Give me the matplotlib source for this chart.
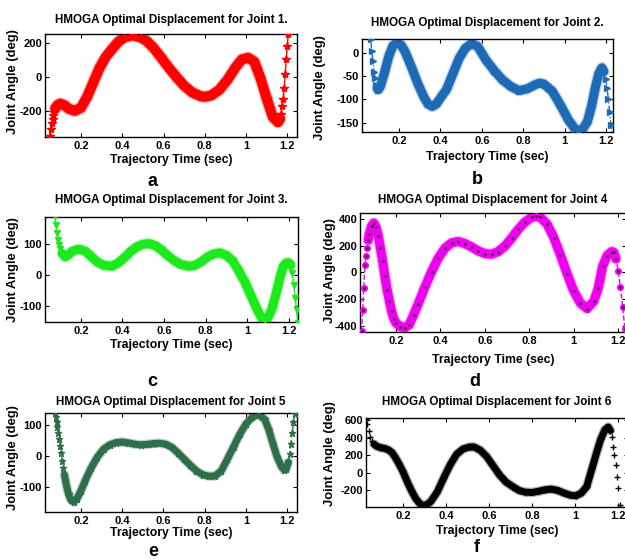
import numpy as np
import matplotlib
matplotlib.use("Agg")
import matplotlib.pyplot as plt

W, H = 625, 559

# trajectory time (sec) and joint angle (deg)
a_t = [0.05, 0.054, 0.058, 0.062, 0.066, 0.07, 0.075, 0.085, 0.10, 0.12, 0.14, 0.17, 0.20, 0.23,
       0.26, 0.29, 0.32, 0.35, 0.38, 0.41, 0.45, 0.49, 0.52, 0.55, 0.58, 0.62, 0.66, 0.70, 0.74,
       0.78, 0.80, 0.83, 0.87, 0.91, 0.95, 0.98, 1.01, 1.04, 1.07, 1.10, 1.13, 1.155, 1.165, 1.17,
       1.175, 1.18, 1.185, 1.19, 1.195, 1.2, 1.205, 1.21]
a_deg = [-345, -305, -272, -245, -222, -202, -185, -165, -155, -165, -185, -198, -180, -115,
         -30, 55, 120, 165, 208, 235, 247, 235, 212, 175, 130, 65, 5, -50, -90,
         -112, -115, -108, -75, -15, 60, 105, 115, 92, -5, -125, -235, -265, -245, -215,
         -172, -130, -65, 20, 105, 185, 255, 330]

b_t = [0.063, 0.068, 0.074, 0.079, 0.084, 0.089, 0.095, 0.10, 0.11, 0.13, 0.15, 0.17, 0.19, 0.21,
       0.23, 0.26, 0.29, 0.32, 0.34, 0.36, 0.38, 0.40, 0.43, 0.46, 0.49, 0.52, 0.55, 0.58, 0.62,
       0.66, 0.70, 0.74, 0.78, 0.82, 0.86, 0.88, 0.90, 0.94, 0.98, 1.02, 1.05, 1.07, 1.09, 1.11,
       1.13, 1.15, 1.165, 1.18, 1.19, 1.198, 1.205, 1.212, 1.218, 1.224, 1.23]
b_deg = [30, 4, -18, -40, -54, -68, -76, -79, -72, -42, -8, 15, 22, 17,
         2, -30, -65, -95, -110, -115, -110, -97, -78, -45, -12, 10, 20, 14, -15,
         -38, -58, -72, -81, -77, -68, -65, -67, -82, -112, -145, -163, -168, -162, -148,
         -115, -72, -45, -32, -40, -55, -75, -100, -128, -155, -185]

c_t = [0.075, 0.08, 0.085, 0.09, 0.095, 0.10, 0.11, 0.125, 0.14, 0.16, 0.19, 0.22, 0.25, 0.28,
       0.31, 0.35, 0.38, 0.41, 0.44, 0.47, 0.50, 0.53, 0.56, 0.59, 0.62, 0.65, 0.68, 0.72, 0.75,
       0.78, 0.81, 0.84, 0.87, 0.90, 0.93, 0.96, 0.99, 1.02, 1.05, 1.07, 1.085, 1.10, 1.12, 1.14,
       1.16, 1.175, 1.19, 1.20, 1.21, 1.218, 1.225, 1.232, 1.238, 1.244]
c_deg = [190, 160, 135, 113, 96, 84, 68, 57, 64, 76, 82, 76, 58, 40,
         30, 27, 38, 55, 75, 90, 98, 100, 93, 78, 60, 45, 33, 27, 30,
         42, 57, 67, 70, 62, 45, 12, -25, -70, -115, -140, -148, -140, -110, -60,
         -5, 28, 38, 38, 30, 5, -35, -75, -115, -155]

d_t = [0.045, 0.05, 0.055, 0.06, 0.065, 0.07, 0.075, 0.08, 0.09, 0.10, 0.11, 0.12, 0.13, 0.14,
       0.15, 0.16, 0.17, 0.18, 0.19, 0.20, 0.22, 0.24, 0.26, 0.28, 0.30, 0.33, 0.36, 0.39, 0.42,
       0.45, 0.48, 0.51, 0.54, 0.57, 0.60, 0.63, 0.66, 0.69, 0.72, 0.75, 0.78, 0.81, 0.83, 0.85,
       0.88, 0.91, 0.94, 0.97, 1.00, 1.03, 1.06, 1.09, 1.11, 1.13, 1.15, 1.17, 1.18, 1.19, 1.20,
       1.21, 1.22, 1.23]
d_deg = [-440, -280, -120, 55, 120, 185, 240, 285, 345, 368, 340, 275, 180, 85,
         -30, -130, -210, -290, -345, -378, -405, -412, -390, -315, -235, -110, 5, 105, 180,
         220, 230, 215, 190, 160, 140, 135, 155, 195, 255, 320, 375, 410, 418, 410,
         360, 260, 130, -10, -140, -230, -270, -215, -120, 45, 125, 155, 150, 100, 10,
         -110, -260, -420]

e_t = [0.074, 0.078, 0.082, 0.086, 0.09, 0.095, 0.10, 0.105, 0.11, 0.115, 0.12, 0.13, 0.14, 0.15,
       0.165, 0.18, 0.20, 0.22, 0.25, 0.28, 0.31, 0.34, 0.37, 0.40, 0.43, 0.46, 0.49, 0.52, 0.55,
       0.58, 0.61, 0.64, 0.67, 0.70, 0.73, 0.76, 0.79, 0.82, 0.85, 0.88, 0.91, 0.94, 0.97, 1.00,
       1.03, 1.06, 1.09, 1.11, 1.13, 1.15, 1.17, 1.185, 1.195, 1.205, 1.212, 1.218, 1.224, 1.23,
       1.236, 1.242]
e_deg = [140, 125, 108, 92, 75, 55, 32, 10, -15, -40, -60, -95, -122, -140,
         -148, -138, -112, -80, -38, -3, 22, 36, 43, 45, 42, 38, 36, 37, 40,
         41, 38, 28, 10, -10, -30, -48, -60, -65, -64, -48, -10, 30, 70, 103,
         125, 133, 118, 85, 40, -2, -32, -45, -42, -20, 5, 40, 75, 110,
         135, 160]

f_t = [0.028, 0.034, 0.04, 0.047, 0.055, 0.065, 0.078, 0.095, 0.115, 0.135, 0.15, 0.165, 0.18,
       0.20, 0.22, 0.24, 0.26, 0.28, 0.295, 0.31, 0.33, 0.36, 0.39, 0.42, 0.45, 0.48, 0.51, 0.53,
       0.56, 0.59, 0.62, 0.65, 0.68, 0.71, 0.74, 0.77, 0.80, 0.83, 0.86, 0.89, 0.92, 0.95, 0.98,
       1.005, 1.03, 1.055, 1.08, 1.10, 1.12, 1.14, 1.155, 1.165, 1.172, 1.178, 1.184, 1.19,
       1.196, 1.202, 1.208]
f_deg = [610, 550, 480, 410, 360, 325, 300, 285, 275, 255, 225, 170, 105,
         10, -105, -210, -300, -360, -378, -370, -330, -220, -60, 90, 210, 270, 292, 292,
         255, 180, 75, -30, -110, -160, -205, -225, -228, -215, -198, -190, -205, -235, -260,
         -265, -235, -160, 50, 220, 380, 490, 520, 480, 406, 291, 200, 86,
         -51, -177, -371]

xtick_vals = [0.2, 0.4, 0.6, 0.8, 1.0, 1.2]
xtick_labels = ['0.2', '0.4', '0.6', '0.8', '1', '1.2']
yticks = {
    'a': [-200, 0, 200],
    'b': [-150, -100, -50, 0],
    'c': [-100, 0, 100],
    'd': [-400, -200, 0, 200, 400],
    'e': [-100, 0, 100],
    'f': [-200, 0, 200, 400, 600],
}
titles = {
    'a': 'HMOGA Optimal Displacement for Joint 1.',
    'b': 'HMOGA Optimal Displacement for Joint 2.',
    'c': 'HMOGA Optimal Displacement for Joint 3.',
    'd': 'HMOGA Optimal Displacement for Joint 4',
    'e': 'HMOGA Optimal Displacement for Joint 5',
    'f': 'HMOGA Optimal Displacement for Joint 6',
}
xlabel = 'Trajectory Time (sec)'
ylabel = 'Joint Angle (deg)'

FONT = ['Liberation Sans', 'DejaVu Sans']

plt.rcParams['font.family'] = FONT
plt.rcParams['font.weight'] = 'bold'
plt.rcParams['axes.unicode_minus'] = False

# layout in pixels: box (left, right, top, bottom), limits, text spots
panels = {
    'a': dict(t=a_t, y=a_deg, box=(45, 297, 34, 137), xlim=(0.0255, 1.247), ylim=(-352, 255),
              color='#ff0000', marker='*', ms=6, ls='-', band=(0.075, 1.165), band_px=10,
              title_y=20, xlab_y=160, ylab=(13, 82), letter=(152, 182)),
    'b': dict(t=b_t, y=b_deg, box=(362, 613, 39, 132), xlim=(0.021, 1.234), ylim=(-170, 30),
              color='#1e6ab4', marker='>', ms=4, ls='-.', band=(0.095, 1.19), band_px=9,
              title_y=23, xlab_y=157, ylab=(320, 88), letter=(477, 180)),
    'c': dict(t=c_t, y=c_deg, box=(45, 298, 217, 322), xlim=(0.027, 1.245), ylim=(-153, 186),
              color='#1ee81e', marker='v', ms=5, ls='-', band=(0.11, 1.21), band_px=9,
              title_y=200, xlab_y=345, ylab=(13, 270), letter=(152, 382)),
    'd': dict(t=d_t, y=d_deg, box=(360, 626, 213, 332), xlim=(0.038, 1.235), ylim=(-445, 443),
              color='#ee00ee', marker='o', ms=4, ls='--', band=(0.075, 1.195), band_px=9,
              title_y=200, xlab_y=360, ylab=(330, 271), letter=(475, 382), dots=True),
    'e': dict(t=e_t, y=e_deg, box=(45, 297, 413, 512), xlim=(0.026, 1.247), ylim=(-180, 138),
              color='#2f6e4a', marker='*', ms=5, ls='-.', band=(0.12, 1.205), band_px=7,
              title_y=402, xlab_y=533, ylab=(13, 458), letter=(153, 552)),
    'f': dict(t=f_t, y=f_deg, box=(366, 628, 418, 507), xlim=(0.028, 1.247), ylim=(-394, 623),
              color='#000000', marker='+', ms=5, ls='none', band=(0.065, 1.165), band_px=7,
              title_y=402, xlab_y=531, ylab=(330, 454), letter=(477, 547)),
}


def fx(px):
    return px / W


def fy(py):
    return 1 - py / H


def plot_joint(fig, key, p):
    left, right, top, bottom = p['box']
    ax = fig.add_axes([fx(left), fy(bottom), (right - left) / W, (bottom - top) / H])
    t = np.asarray(p['t'])
    y = np.asarray(p['y'])
    m = (t >= p['band'][0]) & (t <= p['band'][1])
    lw = p['band_px'] * 72 / 100

    # thick band made by the overlapping markers in the original
    ax.plot(t[m], y[m], color=p['color'], lw=lw + 1.8, alpha=0.3,
            solid_capstyle='round', solid_joinstyle='round', zorder=2)
    ax.plot(t[m], y[m], color=p['color'], lw=lw,
            solid_capstyle='round', solid_joinstyle='round', zorder=2)
    ax.plot(t, y, color=p['color'], ls=p['ls'], lw=1.0, marker=p['marker'],
            ms=p['ms'], mew=1.0, zorder=3)
    if p.get('dots'):
        ax.plot(t, y, '.', color='#3a003a', ms=1.8, zorder=4)

    ax.set_xlim(*p['xlim'])
    ax.set_ylim(*p['ylim'])
    ax.set_xticks(xtick_vals)
    ax.set_xticklabels(xtick_labels)
    ax.set_yticks(yticks[key])
    ax.tick_params(direction='in', top=True, right=True, length=3, width=0.8,
                   labelsize=8, pad=2)
    ax.tick_params(axis='x', pad=3)
    for s in ax.spines.values():
        s.set_linewidth(1.0)

    cx = (left + right) / 2
    fig.text(fx(cx), fy(p['title_y']), titles[key], ha='center', va='center',
             fontsize=8.4, fontweight='bold')
    fig.text(fx(cx), fy(p['xlab_y']), xlabel, ha='center', va='center',
             fontsize=8.8, fontweight='bold')
    fig.text(fx(p['ylab'][0]), fy(p['ylab'][1]), ylabel, ha='center', va='center',
             rotation=90, fontsize=9.4, fontweight='bold')
    fig.text(fx(p['letter'][0]), fy(p['letter'][1]), key, ha='center', va='center',
             fontsize=13, fontweight='bold')
    return ax


fig = plt.figure(figsize=(W / 100, H / 100), dpi=100)
fig.patch.set_facecolor('white')
for key, p in panels.items():
    plot_joint(fig, key, p)

fig.savefig('out.png', dpi=100)
